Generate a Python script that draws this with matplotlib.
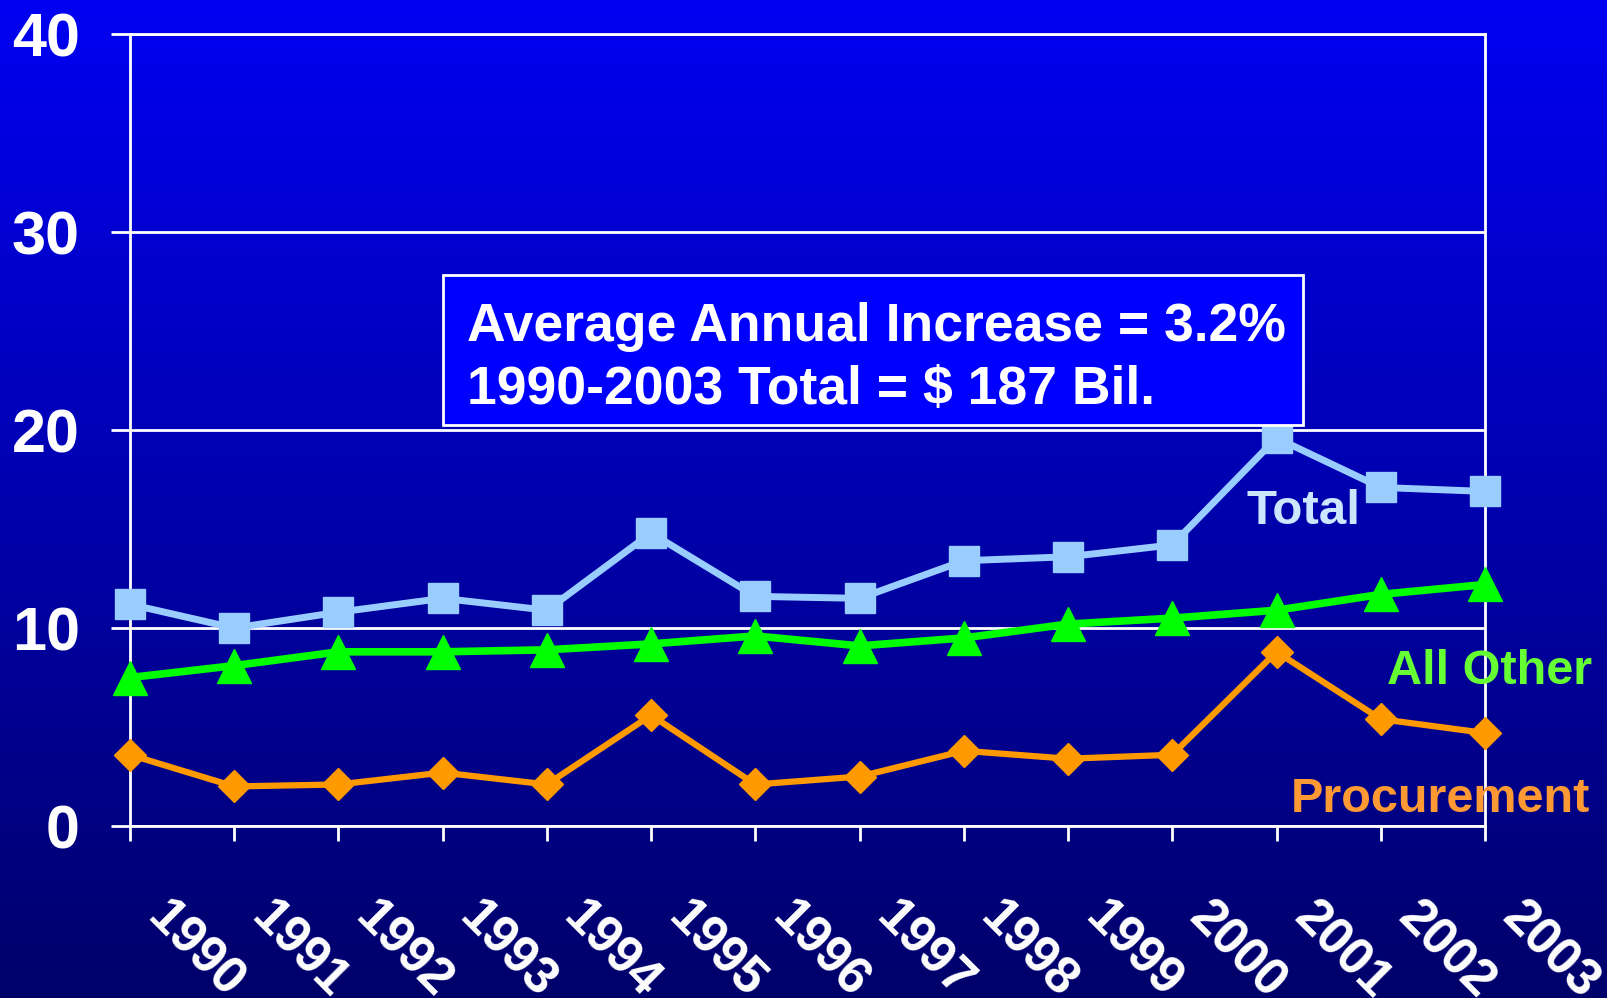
import numpy as np
import matplotlib.pyplot as plt
import matplotlib.transforms as mtransforms
from matplotlib.patches import Rectangle

plt.rcParams['font.family'] = ['Liberation Sans', 'DejaVu Sans']
plt.rcParams['font.weight'] = 'bold'

# 数据 (十亿美元)
years = ['1990', '1991', '1992', '1993', '1994', '1995', '1996',
         '1997', '1998', '1999', '2000', '2001', '2002', '2003']
total = [11.2, 10.0, 10.8, 11.5, 10.9, 14.8, 11.6,
         11.5, 13.4, 13.6, 14.2, 19.6, 17.1, 16.9]
all_other = [7.5, 8.1, 8.8, 8.8, 8.9, 9.2, 9.6,
             9.1, 9.5, 10.2, 10.5, 10.9, 11.7, 12.2]
procurement = [3.6, 2.0, 2.1, 2.7, 2.1, 5.6, 2.1,
               2.5, 3.8, 3.4, 3.6, 8.8, 5.4, 4.7]
y_ticks = [0, 10, 20, 30, 40]
box_lines = ['Average Annual Increase = 3.2%', '1990-2003 Total = $ 187 Bil.']

fig = plt.figure(figsize=(16.08, 9.98), dpi=100)

# 背景渐变
bg = fig.add_axes([0, 0, 1, 1], zorder=0)
grad = np.linspace(0, 1, 256).reshape(-1, 1)
top_c = np.array([0, 0, 242]) / 255
bot_c = np.array([0, 0, 106]) / 255
img = top_c[None, None, :] * (1 - grad[:, :, None]) + bot_c[None, None, :] * grad[:, :, None]
bg.imshow(img, aspect='auto', extent=[0, 1, 0, 1])
bg.axis('off')

ax = fig.add_axes([0.0808, 0.1723, 0.8427, 0.7936], zorder=1)
ax.patch.set_alpha(0)
x = np.arange(len(years))

ax.plot(x, total, color='#99CCFF', lw=5, marker='s', ms=22, zorder=5, clip_on=False)
ax.plot(x, all_other, color='#00FF00', lw=5.5, marker='^', ms=24, zorder=5, clip_on=False)
ax.plot(x, procurement, color='#FF9900', lw=4.5, marker='D', ms=16, zorder=5, clip_on=False)

ax.set_xlim(0, len(years) - 1)
ax.set_ylim(0, 40)
ax.set_yticks(y_ticks)
ax.set_xticks(x)
ax.grid(axis='y', color='white', lw=2)
ax.set_axisbelow(True)
for s in ax.spines.values():
    s.set_color('white')
    s.set_linewidth(2)

ax.tick_params(axis='y', colors='white', length=14, width=2, pad=22, labelsize=44)
ax.tick_params(axis='x', colors='white', length=11, width=2, pad=37, labelsize=37)
ax.set_xticklabels(years, rotation=-45, ha='left', va='top', fontweight='bold')
offset = mtransforms.ScaledTranslation(5 / 72, 0, fig.dpi_scale_trans)
for lab in ax.get_xticklabels():
    lab.set_transform(lab.get_transform() + offset)
for lab in ax.get_yticklabels():
    lab.set_fontweight('bold')

# 系列标签
ax.text(11.26, 15.25, 'Total', color='#CCE6FF', fontsize=35.5, ha='center', va='baseline', zorder=6)
ax.text(14.03, 7.17, 'All Other', color='#66FF33', fontsize=35, ha='right', va='baseline',
        clip_on=False, zorder=6)
ax.text(14.01, 0.71, 'Procurement', color='#FF9933', fontsize=35, ha='right', va='baseline',
        clip_on=False, zorder=6)

# 说明框
fig.patches.append(Rectangle((443 / 1608, 1 - 425 / 998), 860 / 1608, 150 / 998,
                             transform=fig.transFigure, facecolor='#0000FF',
                             edgecolor='white', lw=2, zorder=2))
fig.text(467 / 1608, 1 - 341 / 998, box_lines[0], color='white', fontsize=38.5,
         ha='left', va='baseline', zorder=3)
fig.text(467 / 1608, 1 - 404 / 998, box_lines[1], color='white', fontsize=38.5,
         ha='left', va='baseline', zorder=3)

fig.savefig('out.png', dpi=100)
